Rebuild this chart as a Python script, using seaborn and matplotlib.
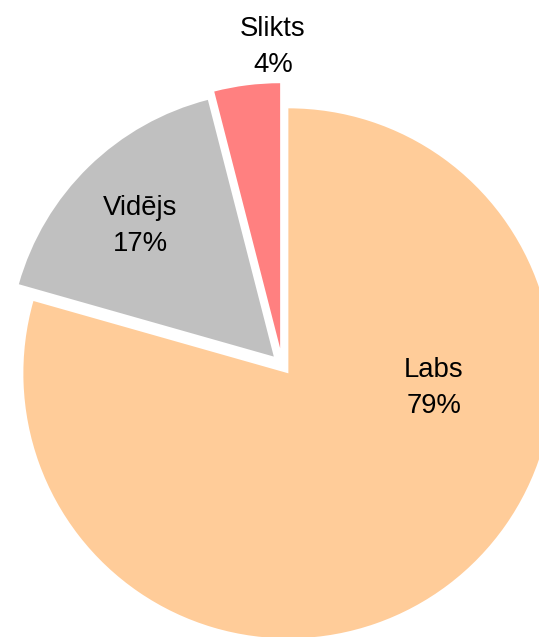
import matplotlib
matplotlib.use("Agg")
import matplotlib.pyplot as plt
import seaborn as sns

categories = ["Labs", "Vidējs", "Slikts"]
values = [79.4, 16.6, 4.0]
pct_labels = ["79%", "17%", "4%"]
colors = ["#FFCC99", "#C0C0C0", "#FF8080"]
explode = [0.038, 0.046, 0.065]
label_pos = [(0.572, -0.087), (-0.537, 0.525), (-0.035, 1.203)]

sns.set_style("white")
plt.rcParams["font.family"] = ["Liberation Sans", "DejaVu Sans"]

W, H = 539, 637
fig = plt.figure(figsize=(W / 100, H / 100), dpi=100)
ax = fig.add_axes([0, 0, 1, 1])
cx, cy, R = 282.3, 365.3, 265
ax.pie(values, colors=colors, explode=explode, startangle=90, counterclock=False,
       radius=1, wedgeprops=dict(linewidth=0))
for cat, pl, (x, y) in zip(categories, pct_labels, label_pos):
    ax.text(x, y, f"{cat}\n{pl}", ha="center", va="center", fontsize=19.8,
            linespacing=1.5, color="black")
ax.set_xlim(-cx / R, (W - cx) / R)
ax.set_ylim(-(H - cy) / R, cy / R)
ax.set_aspect("auto")
ax.axis("off")
fig.savefig("out.png", dpi=100)
